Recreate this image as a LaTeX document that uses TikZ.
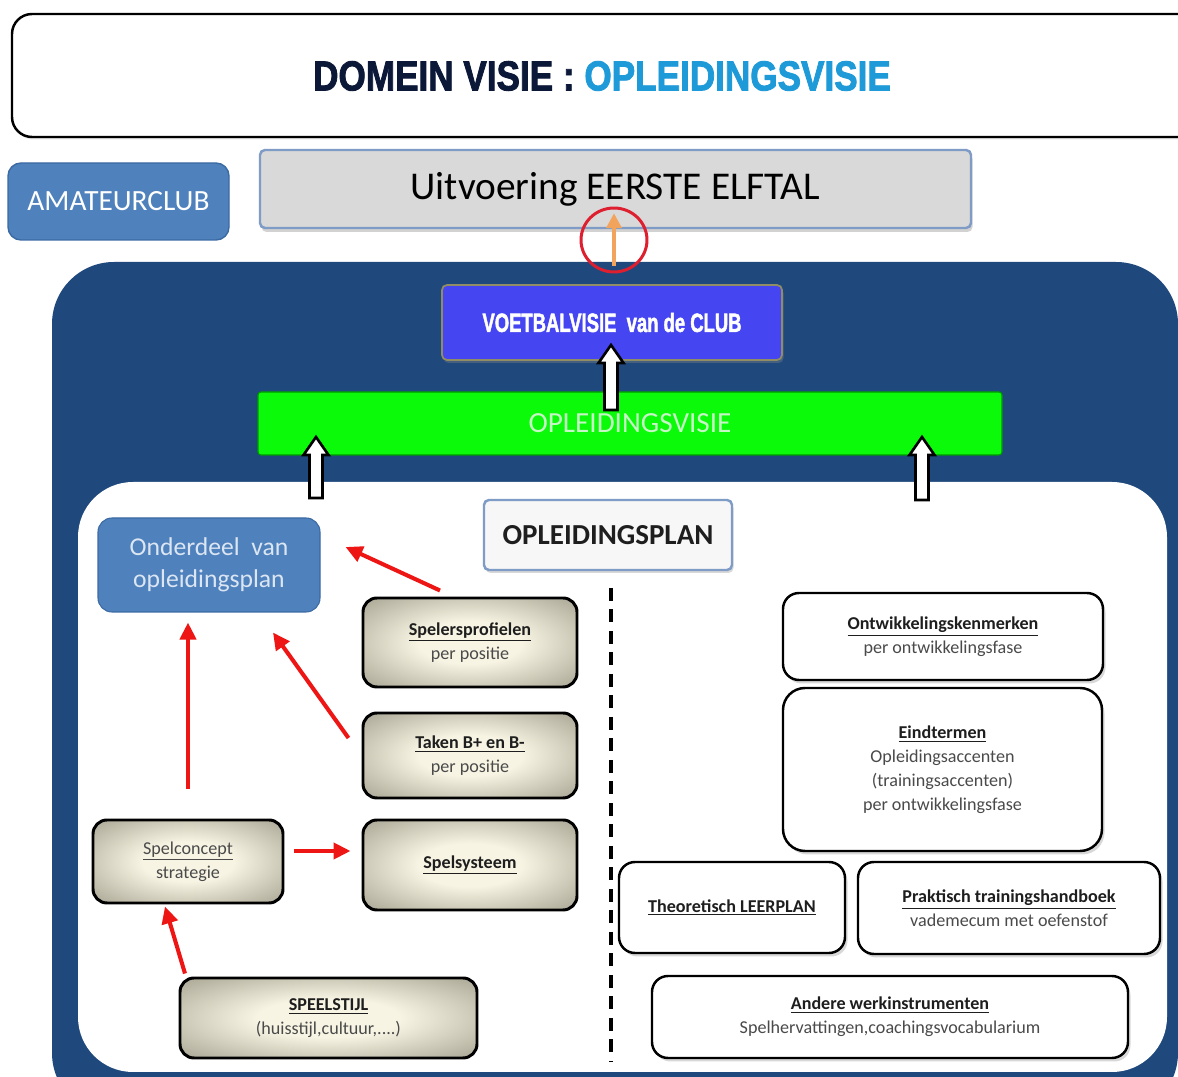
\documentclass[tikz,border=0pt]{standalone}
\usepackage{fontspec}
\usepackage{graphicx}
\setmainfont{Carlito}
\newfontfamily\heavy{Liberation Sans}[BoldFeatures={FakeBold=2.2}]
\usetikzlibrary{arrows.meta,shapes.geometric,shadows,calc}
\definecolor{navyt}{HTML}{0B1838}
\definecolor{cyant}{HTML}{1F9AD8}
\definecolor{steel}{HTML}{4F81BD}
\definecolor{steeld}{HTML}{3C6AA3}
\definecolor{lightg}{HTML}{D9D9D9}
\definecolor{bordb}{HTML}{7E9CC6}
\definecolor{bluebg}{HTML}{1F497D}
\definecolor{violet}{HTML}{4545F2}
\definecolor{vgreen}{HTML}{0AFA0A}
\definecolor{gtxt}{HTML}{C6F6C6}
\definecolor{ltxt}{HTML}{DCE6F2}
\definecolor{gin}{HTML}{F7F4E3}
\definecolor{gout}{HTML}{7A7563}
\definecolor{arrred}{HTML}{EE1515}
\definecolor{circred}{HTML}{DD1F2F}
\definecolor{orng}{HTML}{F2A45C}
\definecolor{txtd}{HTML}{1E1E1E}
\definecolor{txtg}{HTML}{4A4A4A}
\pgfdeclareradialshading{gboxshade}{\pgfpoint{0bp}{0bp}}{color(0bp)=(gin); color(12bp)=(gin); color(50bp)=(gout); color(72bp)=(gout)}
\newcommand\ttl[1]{\textbf{\underline{#1}}}
\newcommand\blockup[3]{\draw[fill=white, draw=black, line width=1.5pt, line join=miter] (#1-6.5,#3) -- (#1-6.5,#2+18) -- (#1-12.5,#2+18) -- (#1,#2) -- (#1+12.5,#2+18) -- (#1+6.5,#2+18) -- (#1+6.5,#3) -- cycle;}
\tikzset{
  every node/.style={align=center, inner sep=0pt},
  sz/.style 2 args={minimum width=#1*0.02cm, minimum height=#2*0.02cm},
  smallfont/.style={font=\fontsize{10.3}{12.6}\selectfont},
  gbox/.style={draw=black, line width=1.7pt, rounded corners=0.28cm, shade, shading=gboxshade, text=txtd, smallfont},
  wbox/.style={draw=black, line width=1.4pt, fill=white, rounded corners=0.32cm, text=txtd, smallfont,
     drop shadow={opacity=0.3, shadow xshift=0.05cm, shadow yshift=-0.07cm}},
  redarr/.style={draw=arrred, line width=2.3pt, -{Triangle[length=0.34cm, width=0.32cm]}},
}
\begin{document}
\begin{tikzpicture}[x=0.02cm, y=-0.02cm]
\useasboundingbox (0,0) rectangle (1178,1077);
\clip (0,0) rectangle (1178,1077);
\fill[white] (0,0) rectangle (1178,1077);

% top frame and title
\node[draw=black, line width=1.4pt, rounded corners=0.4cm, sz={1190}{123}, fill=white,
  drop shadow={opacity=0.2, shadow xshift=0.03cm, shadow yshift=-0.05cm}] (frame) at (607,75.5) {};
\node (title) at (602,76) {\heavy\bfseries\fontsize{23.8}{24}\selectfont\scalebox{0.84}[1]{\textcolor{navyt}{DOMEIN VISIE :} \textcolor{cyant}{OPLEIDINGSVISIE}}};

% amateurclub and uitvoering
\node[fill=steel, draw=steeld, line width=0.8pt, rounded corners=0.26cm, sz={221}{77}, text=white,
  font=\fontsize{16.7}{18}\selectfont] (amateur) at (118.5,201.5) {AMATEURCLUB};
\node[fill=lightg, draw=bordb, line width=1.4pt, rounded corners=0.1cm, sz={711}{78},
  font=\fontsize{22.4}{24}\selectfont, text=black,
  drop shadow={opacity=0.35, shadow xshift=0.03cm, shadow yshift=-0.08cm}] (uitv) at (615.5,189) {Uitvoering EERSTE ELFTAL};

% blue container and inner white area
\fill[bluebg, rounded corners=1.24cm] (52,262) rectangle (1178,1115);
\fill[white, rounded corners=1.1cm] (78,482) rectangle (1167,1072);

% voetbalvisie and opleidingsvisie
\node[fill=violet, draw=gray!70!olive, line width=1pt, rounded corners=0.1cm, sz={340}{75}, text=white,
  drop shadow={opacity=0.4, shadow xshift=0.03cm, shadow yshift=-0.06cm}] (voet) at (612,322.5)
  {\heavy\bfseries\fontsize{15}{16}\selectfont\scalebox{0.7}[1]{VOETBALVISIE\ \ van de CLUB}};
\node[fill=vgreen, draw=green!60!black, line width=0.6pt, rounded corners=0.06cm, sz={744}{63}, text=gtxt,
  font=\fontsize{16.6}{18}\selectfont] (green) at (630,423.5) {OPLEIDINGSVISIE};

% block arrows
\blockup{611}{345}{410}
\blockup{316}{437}{498}
\blockup{922}{437}{500}

% opleidingsplan and onderdeel
\node[fill=gray!6, draw=bordb, line width=1.4pt, rounded corners=0.1cm, sz={248}{70},
  font=\bfseries\fontsize{16.5}{18}\selectfont, text=txtd,
  drop shadow={opacity=0.3, shadow xshift=0.03cm, shadow yshift=-0.06cm}] (oplplan) at (608,535) {OPLEIDINGSPLAN};
\node[fill=steel, draw=steeld, line width=0.6pt, rounded corners=0.28cm, sz={222}{94}, text=ltxt,
  font=\fontsize{14.6}{18.2}\selectfont] (onder) at (209,565) {Onderdeel\ \ van\\opleidingsplan};

% dashed divider
\coordinate (dtop) at (611,588);
\coordinate (dbot) at (611,1062);
\draw[black, line width=2.4pt, dash pattern=on 0.26cm off 0.17cm] (dtop) -- (dbot);

% gradient boxes
\node[gbox, sz={214}{89}] (spel) at (470,642.5) {\ttl{Spelersprofielen}\\[1pt]\textcolor{txtg}{per positie}};
\node[gbox, sz={214}{85}] (taken) at (470,755.5) {\ttl{Taken B+ en B-}\\[1pt]\textcolor{txtg}{per positie}};
\node[gbox, sz={214}{90}] (spels) at (470,865) {\ttl{Spelsysteem}};
\node[gbox, sz={190}{83}] (spelc) at (188,861.5) {\textcolor{txtg}{\underline{Spelconcept}}\\[1pt]\textcolor{txtg}{strategie}};
\node[gbox, sz={297}{80}] (speel) at (328.5,1018) {\ttl{SPEELSTIJL}\\[1pt]\textcolor{txtg}{(huisstijl,cultuur,....)}};

% right white boxes
\node[wbox, sz={320}{87}] (ontw) at (943,636.5) {\ttl{Ontwikkelingskenmerken}\\[1pt]\textcolor{txtg}{per ontwikkelingsfase}};
\node[wbox, sz={319}{163}, rounded corners=0.44cm] (eind) at (942.5,769.5) {\ttl{Eindtermen}\\[1pt]\textcolor{txtg}{Opleidingsaccenten}\\[1pt]\textcolor{txtg}{(trainingsaccenten)}\\[1pt]\textcolor{txtg}{per ontwikkelingsfase}};
\node[wbox, sz={226}{91}] (theo) at (732,907.5) {\ttl{Theoretisch LEERPLAN}};
\node[wbox, sz={302}{92}] (prak) at (1009,908) {\ttl{Praktisch trainingshandboek}\\[1pt]\textcolor{txtg}{vademecum met oefenstof}};
\node[wbox, sz={476}{82}] (andere) at (890,1017) {\ttl{Andere werkinstrumenten}\\[1pt]\textcolor{txtg}{Spelhervattingen,coachingsvocabularium}};

% red arrows
\draw[redarr] ($(spel.north)+(-30,-6)$) -- ($(onder.east)+(25,-18)$);
\draw[redarr] ($(taken.west)+(-13,-17.5)$) -- ($(onder.south)+(64,20)$);
\draw[redarr] ($(spelc.north)+(0,-30)$) -- ($(onder.south)+(-21,10)$);
\draw[redarr] ($(spelc.east)+(10,-10.5)$) -- ($(spels.west)+(-11,-14)$);
\draw[redarr] ($(speel.north)+(-143.5,-3)$) -- ($(spelc.south)+(-23,2)$);

% orange arrow and red circle
\coordinate (obase) at (614,266);
\draw[orng, line width=2.2pt, -{Triangle[length=0.3cm, width=0.3cm]}] (obase) -- ($(uitv.south)+(-1.5,-16)$);
\node[ellipse, draw=circred, line width=1.7pt, minimum width=1.32cm, minimum height=1.28cm] (circ) at (614,240) {};
\end{tikzpicture}
\end{document}
